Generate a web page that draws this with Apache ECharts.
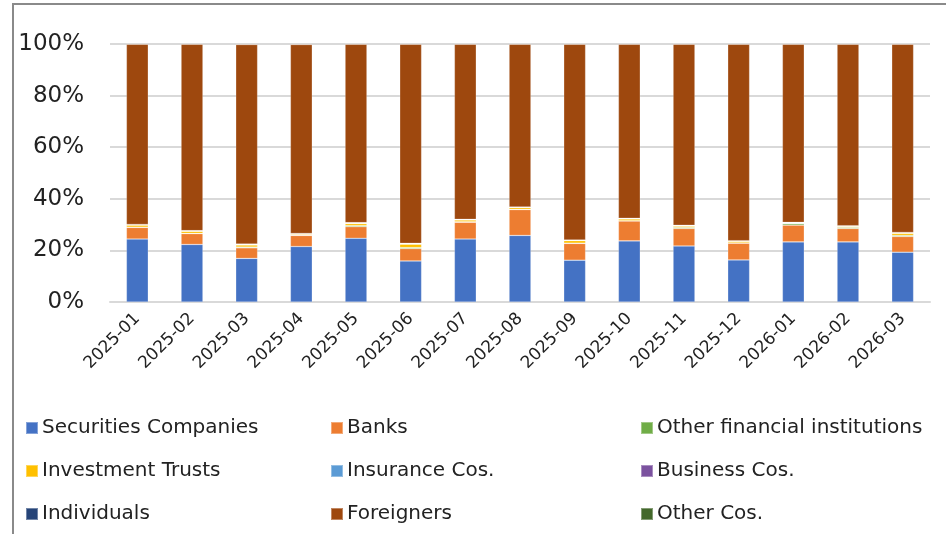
<!DOCTYPE html>
<html>
<head>
<meta charset="utf-8">
<script src="https://cdn.jsdelivr.net/npm/echarts@6/dist/echarts.min.js"></script>
<style>
html,body{margin:0;padding:0;background:#fff;overflow:hidden;}
#frame{position:absolute;left:12px;top:3px;width:1000px;height:600px;border-left:2px solid #8a8a8a;border-top:2px solid #8a8a8a;}
#chart{position:absolute;left:0;top:0;width:946px;height:534px;}
</style>
</head>
<body>
<div id="frame"></div>
<div id="chart"></div>
<script>
const categories = ['2025-01','2025-02','2025-03','2025-04','2025-05','2025-06','2025-07','2025-08','2025-09','2025-10','2025-11','2025-12','2026-01','2026-02','2026-03'];
const yTicks = [0,20,40,60,80,100];
const securities = [24.4,22.3,16.9,21.5,24.7,15.9,24.4,25.8,16.2,23.7,21.7,16.3,23.3,23.3,19.3];
const banks      = [4.5,4.2,4.1,4.3,4.5,4.8,6.5,10.0,6.5,7.7,6.8,6.5,6.5,5.2,6.1];
const otherFin   = [0.1,0.1,0.3,0.1,0.4,0.4,0.2,0.1,0.1,0.1,0.4,0.1,0.6,0.4,0.4];
const invTrusts  = [0.8,0.8,0.8,0.4,0.8,1.3,0.7,0.7,1.0,0.7,0.5,0.6,0.1,0.4,0.8];
const insurance  = [0.1,0.1,0.2,0.1,0.2,0.2,0.1,0.1,0.1,0.1,0.2,0.1,0.2,0.1,0.2];
const business   = [0.1,0.1,0.1,0.1,0.1,0.1,0.1,0.1,0.1,0.1,0.1,0.1,0.1,0.1,0.1];
const individuals= [0.05,0.05,0.05,0.05,0.05,0.05,0.05,0.05,0.05,0.05,0.05,0.05,0.05,0.05,0.05];
const foreigners = [69.85,72.25,77.35,73.25,69.15,77.15,67.85,63.05,75.85,67.45,70.15,76.15,69.05,70.35,72.95];
const otherCos   = [0.1,0.1,0.2,0.2,0.1,0.1,0.1,0.1,0.1,0.1,0.1,0.1,0.1,0.1,0.1];

const seriesDefs = [
  ['Securities Companies', securities, '#4472C4'],
  ['Banks', banks, '#ED7D31'],
  ['Other financial institutions', otherFin, '#70AD47'],
  ['Investment Trusts', invTrusts, '#FFC000'],
  ['Insurance Cos.', insurance, '#5B9BD5'],
  ['Business Cos.', business, '#7B529F'],
  ['Individuals', individuals, '#264478'],
  ['Foreigners', foreigners, '#9E480E'],
  ['Other Cos.', otherCos, '#43682B']
];

const chart = echarts.init(document.getElementById('chart'), null, {renderer:'canvas'});
const font = 'DejaVu Sans';
function legendCol(left, names){
  return {
    orient:'vertical', left:left, top:413, itemWidth:12, itemHeight:12, itemGap:23,
    icon:'rect', data:names, selectedMode:false,
    textStyle:{fontFamily:font, fontSize:20, color:'#222', lineHeight:20, padding:[0,0,0,-1]}
  };
}
chart.setOption({
  animation:false,
  backgroundColor:'transparent',
  grid:{left:110, right:16, top:44, bottom:232, containLabel:false},
  legend:[
    legendCol(20, ['Securities Companies','Investment Trusts','Individuals']),
    legendCol(325, ['Banks','Insurance Cos.','Foreigners']),
    legendCol(635, ['Other financial institutions','Business Cos.','Other Cos.'])
  ],
  xAxis:{
    type:'category', data:categories,
    axisLine:{show:true, lineStyle:{color:'#d9d9d9', width:2}},
    axisTick:{show:false},
    axisLabel:{rotate:45, fontFamily:font, fontSize:17, color:'#222', margin:14, interval:0}
  },
  yAxis:{
    type:'value', min:0, max:100, interval:20,
    axisLine:{show:false}, axisTick:{show:false},
    splitLine:{lineStyle:{color:'#d9d9d9', width:2}},
    axisLabel:{fontFamily:font, fontSize:23, color:'#222', margin:26,
      formatter:function(v){ return yTicks.indexOf(v) >= 0 ? v + '%' : ''; }}
  },
  series: seriesDefs.map(function(d){
    return {
      name:d[0], type:'bar', stack:'total', data:d[1], barWidth:'40%',
      itemStyle:{color:d[2], borderColor:'rgba(255,255,255,0.35)', borderWidth:0.6},
      emphasis:{disabled:true}
    };
  })
});
</script>
</body>
</html>
